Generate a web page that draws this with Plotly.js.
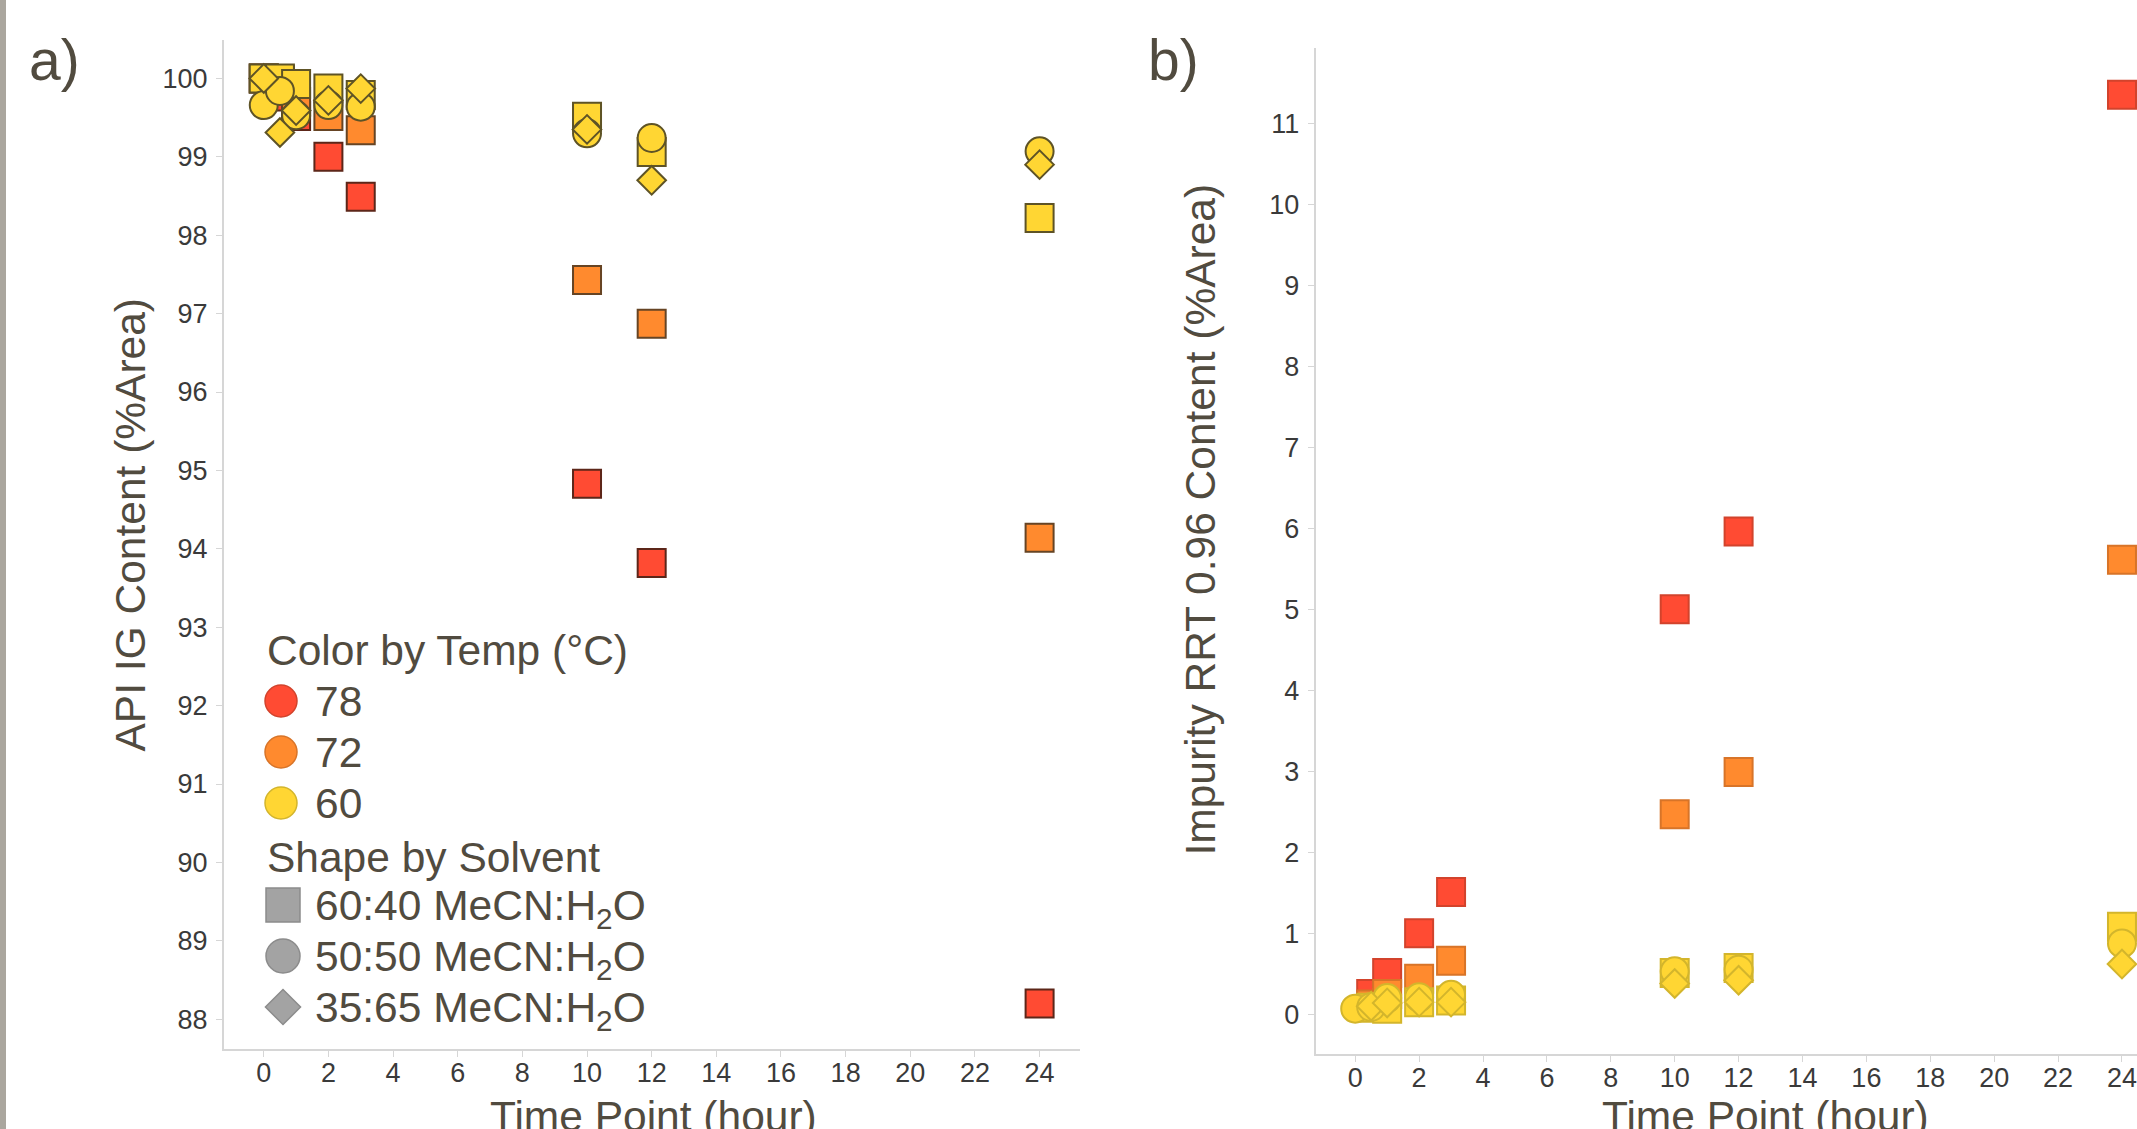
<!DOCTYPE html>
<html>
<head>
<meta charset="utf-8">
<script src="https://cdn.plot.ly/plotly-3.0.1.min.js"></script>
<style>
html,body{margin:0;padding:0;background:#fff;overflow:hidden;}
#chart{width:2137px;height:1129px;}
</style>
</head>
<body>
<div id="chart"></div>
<script>
// ---------------- data ----------------
const hours = [0, 0.5, 1, 2, 3, 10, 12, 24];

// a) API IG Content (%Area)
const api_78_6040 = [100.0, 99.77, 99.52, 99.00, 98.49, 94.83, 93.82, 88.20];
const api_72_6040 = [100.0, 99.98, 99.70, 99.52, 99.34, 97.43, 96.87, 94.14];
const api_60_6040 = [100.0, 100.0, 99.93, 99.87, 99.79, 99.51, 99.06, 98.22];
const api_60_5050 = [99.66, 99.84, 99.53, 99.66, 99.64, 99.30, 99.24, 99.07];
const api_60_3565 = [100.0, 99.31, 99.59, 99.72, 99.87, 99.35, 98.70, 98.90];

// b) Impurity RRT 0.96 Content (%Area)
const imp_78_6040 = [null, 0.25, 0.51, 1.00, 1.51, 5.00, 5.96, 11.35];
const imp_72_6040 = [null, 0.12, 0.25, 0.44, 0.66, 2.47, 2.99, 5.61];
const imp_60_6040 = [null, 0.08, 0.07, 0.15, 0.17, 0.51, 0.57, 1.08];
const imp_60_5050 = [0.07, 0.09, 0.20, 0.21, 0.24, 0.53, 0.55, 0.875];
const imp_60_3565 = [null, 0.10, 0.14, 0.15, 0.15, 0.38, 0.42, 0.62];

const tempLabels = ['78', '72', '60'];
const tempColors = ['#ff4b33', '#ff8a2e', '#ffd633'];
const tempEdgeA = ['#5c2619', '#664424', '#5e5326'];
const tempEdgeB = ['#d2432c', '#d87428', '#d3b52c'];
const solventLabels = ['60:40 MeCN:H<sub>2</sub>O', '50:50 MeCN:H<sub>2</sub>O', '35:65 MeCN:H<sub>2</sub>O'];
const solventSymbols = ['square', 'circle', 'diamond'];
const xTicks = [0, 2, 4, 6, 8, 10, 12, 14, 16, 18, 20, 22, 24];
const titleA = 'API IG Content (%Area)';
const titleB = 'Impurity RRT 0.96 Content (%Area)';
const titleX = 'Time Point (hour)';

// ---------------- layout helpers ----------------
const W = 2137, H = 1129;
const TXT = '#514b3f';
const FONT = 'Liberation Sans, Arial, sans-serif';
const symSize = {square: 28, circle: 28, diamond: 22};

function series(xa, ya, y, ti, si, edges) {
  return {
    type: 'scatter', mode: 'markers', x: hours, y: y,
    xaxis: xa, yaxis: ya, showlegend: false, hoverinfo: 'x+y',
    marker: {symbol: solventSymbols[si], size: symSize[solventSymbols[si]], opacity: 1,
             color: tempColors[ti], line: {color: edges[ti], width: 2}}
  };
}

const traces = [
  series('x', 'y', api_78_6040, 0, 0, tempEdgeA),
  series('x', 'y', api_72_6040, 1, 0, tempEdgeA),
  series('x', 'y', api_60_6040, 2, 0, tempEdgeA),
  series('x', 'y', api_60_5050, 2, 1, tempEdgeA),
  series('x', 'y', api_60_3565, 2, 2, tempEdgeA),
  series('x2', 'y2', imp_78_6040, 0, 0, tempEdgeB),
  series('x2', 'y2', imp_72_6040, 1, 0, tempEdgeB),
  series('x2', 'y2', imp_60_6040, 2, 0, tempEdgeB),
  series('x2', 'y2', imp_60_5050, 2, 1, tempEdgeB),
  series('x2', 'y2', imp_60_3565, 2, 2, tempEdgeB)
];

// ---------------- custom legend ----------------
const legX = 265, legSymX = 283, legTextX = 313;
const legHead1Y = 650, rowH = 51;
const LEGFS = 42.5;
const annotations = [];
const legSx = [], legSy = [], legSym = [], legCol = [], legLine = [], legSize = [];

annotations.push({xref: 'paper', yref: 'paper', x: legX / W, y: 1 - legHead1Y / H,
  xanchor: 'left', yanchor: 'middle', showarrow: false, text: 'Color by Temp (°C)',
  font: {family: FONT, size: LEGFS, color: TXT}});
tempLabels.forEach((t, i) => {
  const cy = legHead1Y + rowH * (i + 1);
  annotations.push({xref: 'paper', yref: 'paper', x: legTextX / W, y: 1 - cy / H,
    xanchor: 'left', yanchor: 'middle', showarrow: false, text: t,
    font: {family: FONT, size: LEGFS, color: TXT}});
  legSx.push(legSymX - 2); legSy.push(cy); legSym.push('circle');
  legCol.push(tempColors[i]); legLine.push(tempEdgeB[i]); legSize.push(32);
});
const legHead2Y = legHead1Y + rowH * 4 + 3;
annotations.push({xref: 'paper', yref: 'paper', x: legX / W, y: 1 - legHead2Y / H,
  xanchor: 'left', yanchor: 'middle', showarrow: false, text: 'Shape by Solvent',
  font: {family: FONT, size: LEGFS, color: TXT}});
solventLabels.forEach((s, i) => {
  const cy = legHead2Y + rowH * (i + 1);
  annotations.push({xref: 'paper', yref: 'paper', x: legTextX / W, y: 1 - cy / H,
    xanchor: 'left', yanchor: 'middle', showarrow: false, text: s,
    font: {family: FONT, size: LEGFS, color: TXT}});
  legSx.push(legSymX); legSy.push(cy - 3); legSym.push(solventSymbols[i]);
  legCol.push('#a3a3a3'); legLine.push('#8c8c8c');
  legSize.push(solventSymbols[i] === 'diamond' ? 27 : 34);
});
traces.push({type: 'scatter', mode: 'markers', x: legSx, y: legSy, xaxis: 'x3', yaxis: 'y3',
  showlegend: false, hoverinfo: 'skip', cliponaxis: false,
  marker: {symbol: legSym, size: legSize, color: legCol, opacity: 1, line: {color: legLine, width: 1.5}}});

// panel labels
annotations.push({xref: 'paper', yref: 'paper', x: 27 / W, y: 1 - 26 / H, xanchor: 'left', yanchor: 'top',
  showarrow: false, text: 'a)', font: {family: FONT, size: 57, color: TXT}});
annotations.push({xref: 'paper', yref: 'paper', x: 1146 / W, y: 1 - 26 / H, xanchor: 'left', yanchor: 'top',
  showarrow: false, text: 'b)', font: {family: FONT, size: 57, color: TXT}});

// axis titles (placed as in the reference; x titles run off the bottom edge)
annotations.push({xref: 'paper', yref: 'paper', x: 129.5 / W, y: 1 - 525 / H, xanchor: 'center', yanchor: 'middle',
  showarrow: false, textangle: -90, text: titleA, font: {family: FONT, size: 42.5, color: TXT}});
annotations.push({xref: 'paper', yref: 'paper', x: 1199.5 / W, y: 1 - 520 / H, xanchor: 'center', yanchor: 'middle',
  showarrow: false, textangle: -90, text: titleB, font: {family: FONT, size: 42.5, color: TXT}});
annotations.push({xref: 'paper', yref: 'paper', x: 653 / W, y: 1 - 1091 / H, xanchor: 'center', yanchor: 'top',
  showarrow: false, text: titleX, font: {family: FONT, size: 42.5, color: TXT}});
annotations.push({xref: 'paper', yref: 'paper', x: 1765 / W, y: 1 - 1091 / H, xanchor: 'center', yanchor: 'top',
  showarrow: false, text: titleX, font: {family: FONT, size: 42.5, color: TXT}});

function xAxis(domain, range, anchor) {
  return {domain: domain, range: range, anchor: anchor, tickvals: xTicks,
    showline: true, linecolor: '#d6d6d6', linewidth: 2, ticks: 'outside', ticklen: 6,
    tickcolor: '#d6d6d6', tickwidth: 1, showgrid: false, zeroline: false,
    ticklabelstandoff: -7, ticklabeloverflow: 'allow',
    tickfont: {family: FONT, size: 27, color: '#3a3a3a'}};
}
function yAxis(domain, range, anchor) {
  return {domain: domain, range: range, anchor: anchor, dtick: 1, tick0: 0,
    showline: true, linecolor: '#d6d6d6', linewidth: 2, ticks: 'outside', ticklen: 6,
    tickcolor: '#d6d6d6', tickwidth: 1, showgrid: false, zeroline: false,
    ticklabelstandoff: 3,
    tickfont: {family: FONT, size: 27, color: '#3a3a3a'}};
}

const layout = {
  width: W, height: H, margin: {l: 0, r: 0, t: 0, b: 0, pad: 0},
  paper_bgcolor: '#ffffff', plot_bgcolor: 'rgba(0,0,0,0)', showlegend: false,
  font: {family: FONT, color: TXT},
  xaxis: xAxis([224 / W, 1080 / W], [-1.23, 25.25], 'y'),
  yaxis: yAxis([1 - 1049 / H, 1 - 40 / H], [87.62, 100.49], 'x'),
  xaxis2: xAxis([1315.6 / W, 1], [-1.24, 24.47], 'y2'),
  yaxis2: yAxis([1 - 1054 / H, 1 - 47.8 / H], [-0.49, 11.93], 'x2'),
  xaxis3: {domain: [0, 1], range: [0, W], visible: false, fixedrange: true, anchor: 'y3'},
  yaxis3: {domain: [0, 1], range: [H, 0], visible: false, fixedrange: true, anchor: 'x3'},
  annotations: annotations,
  shapes: [{type: 'rect', xref: 'paper', yref: 'paper', x0: 0, x1: 6 / W, y0: 0, y1: 1,
    fillcolor: '#aaa69e', line: {width: 0}, layer: 'below'}]
};

Plotly.newPlot('chart', traces, layout, {displayModeBar: false, staticPlot: true});
</script>
</body>
</html>
